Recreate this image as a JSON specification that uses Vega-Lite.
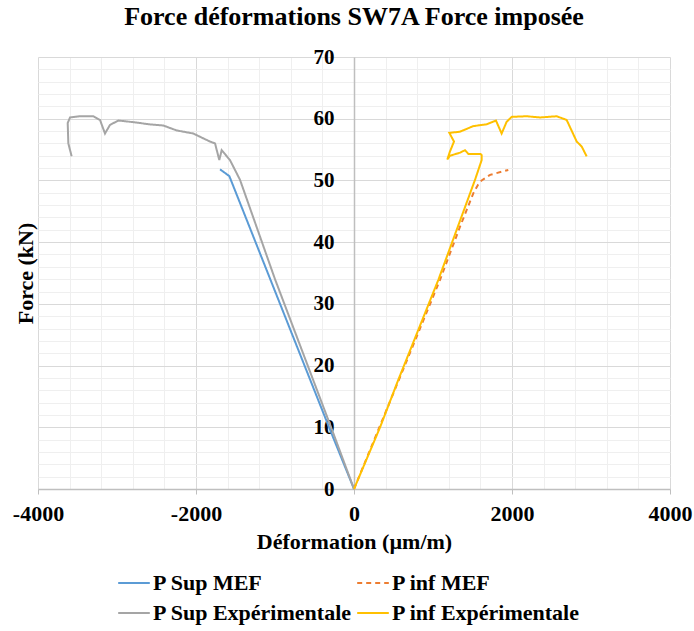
{
  "$schema": "https://vega.github.io/schema/vega-lite/v6.json",
  "width": 632,
  "height": 432,
  "autosize": "none",
  "padding": {"left": 38, "top": 57, "right": 24, "bottom": 142},
  "background": "white",
  "config": {"view": {"stroke": null}},
  "title": {
    "text": "Force déformations SW7A Force imposée",
    "font": "Liberation Serif",
    "fontSize": 26,
    "fontWeight": "bold",
    "color": "black",
    "anchor": "middle",
    "offset": 16
  },
  "data": {
    "values": [
      {"series": "P Sup MEF", "i": 0, "x": 0, "y": 0},
      {"series": "P Sup MEF", "i": 1, "x": -316, "y": 10},
      {"series": "P Sup MEF", "i": 2, "x": -1578, "y": 50.7},
      {"series": "P Sup MEF", "i": 3, "x": -1696, "y": 51.8},

      {"series": "P inf MEF", "i": 0, "x": 0, "y": 0},
      {"series": "P inf MEF", "i": 1, "x": 1089, "y": 33.9},
      {"series": "P inf MEF", "i": 2, "x": 1342, "y": 42.5},
      {"series": "P inf MEF", "i": 3, "x": 1510, "y": 47.9},
      {"series": "P inf MEF", "i": 4, "x": 1570, "y": 49.3},
      {"series": "P inf MEF", "i": 5, "x": 1616, "y": 50.0},
      {"series": "P inf MEF", "i": 6, "x": 1722, "y": 50.9},
      {"series": "P inf MEF", "i": 7, "x": 1953, "y": 51.7},

      {"series": "P Sup Expérimentale", "i": 0, "x": 0, "y": 0},
      {"series": "P Sup Expérimentale", "i": 1, "x": -290, "y": 10},
      {"series": "P Sup Expérimentale", "i": 2, "x": -1000, "y": 34.0},
      {"series": "P Sup Expérimentale", "i": 3, "x": -1443, "y": 50.1},
      {"series": "P Sup Expérimentale", "i": 4, "x": -1570, "y": 53.3},
      {"series": "P Sup Expérimentale", "i": 5, "x": -1675, "y": 54.9},
      {"series": "P Sup Expérimentale", "i": 6, "x": -1705, "y": 53.3},
      {"series": "P Sup Expérimentale", "i": 7, "x": -1759, "y": 56.0},
      {"series": "P Sup Expérimentale", "i": 8, "x": -1823, "y": 56.3},
      {"series": "P Sup Expérimentale", "i": 9, "x": -2034, "y": 57.6},
      {"series": "P Sup Expérimentale", "i": 10, "x": -2245, "y": 58.1},
      {"series": "P Sup Expérimentale", "i": 11, "x": -2414, "y": 58.9},
      {"series": "P Sup Expérimentale", "i": 12, "x": -2600, "y": 59.1},
      {"series": "P Sup Expérimentale", "i": 13, "x": -2709, "y": 59.3},
      {"series": "P Sup Expérimentale", "i": 14, "x": -2900, "y": 59.6},
      {"series": "P Sup Expérimentale", "i": 15, "x": -2983, "y": 59.7},
      {"series": "P Sup Expérimentale", "i": 16, "x": -3089, "y": 59.0},
      {"series": "P Sup Expérimentale", "i": 17, "x": -3152, "y": 57.6},
      {"series": "P Sup Expérimentale", "i": 18, "x": -3215, "y": 59.8},
      {"series": "P Sup Expérimentale", "i": 19, "x": -3300, "y": 60.4},
      {"series": "P Sup Expérimentale", "i": 20, "x": -3468, "y": 60.4},
      {"series": "P Sup Expérimentale", "i": 21, "x": -3595, "y": 60.2},
      {"series": "P Sup Expérimentale", "i": 22, "x": -3624, "y": 59.3},
      {"series": "P Sup Expérimentale", "i": 23, "x": -3616, "y": 56.0},
      {"series": "P Sup Expérimentale", "i": 24, "x": -3574, "y": 53.9},

      {"series": "P inf Expérimentale", "i": 0, "x": 0, "y": 0},
      {"series": "P inf Expérimentale", "i": 1, "x": 330, "y": 10},
      {"series": "P inf Expérimentale", "i": 2, "x": 561, "y": 17.7},
      {"series": "P inf Expérimentale", "i": 3, "x": 1068, "y": 33.9},
      {"series": "P inf Expérimentale", "i": 4, "x": 1532, "y": 50.1},
      {"series": "P inf Expérimentale", "i": 5, "x": 1616, "y": 53.3},
      {"series": "P inf Expérimentale", "i": 6, "x": 1616, "y": 54.1},
      {"series": "P inf Expérimentale", "i": 7, "x": 1600, "y": 54.3},
      {"series": "P inf Expérimentale", "i": 8, "x": 1447, "y": 54.3},
      {"series": "P inf Expérimentale", "i": 9, "x": 1405, "y": 54.9},
      {"series": "P inf Expérimentale", "i": 10, "x": 1342, "y": 54.5},
      {"series": "P inf Expérimentale", "i": 11, "x": 1215, "y": 54.0},
      {"series": "P inf Expérimentale", "i": 12, "x": 1181, "y": 53.4},
      {"series": "P inf Expérimentale", "i": 13, "x": 1215, "y": 54.7},
      {"series": "P inf Expérimentale", "i": 14, "x": 1266, "y": 56.3},
      {"series": "P inf Expérimentale", "i": 15, "x": 1207, "y": 57.7},
      {"series": "P inf Expérimentale", "i": 16, "x": 1342, "y": 57.9},
      {"series": "P inf Expérimentale", "i": 17, "x": 1510, "y": 58.8},
      {"series": "P inf Expérimentale", "i": 18, "x": 1679, "y": 59.1},
      {"series": "P inf Expérimentale", "i": 19, "x": 1797, "y": 59.7},
      {"series": "P inf Expérimentale", "i": 20, "x": 1869, "y": 57.6},
      {"series": "P inf Expérimentale", "i": 21, "x": 1932, "y": 59.5},
      {"series": "P inf Expérimentale", "i": 22, "x": 1996, "y": 60.3},
      {"series": "P inf Expérimentale", "i": 23, "x": 2186, "y": 60.4},
      {"series": "P inf Expérimentale", "i": 24, "x": 2354, "y": 60.2},
      {"series": "P inf Expérimentale", "i": 25, "x": 2565, "y": 60.4},
      {"series": "P inf Expérimentale", "i": 26, "x": 2692, "y": 59.8},
      {"series": "P inf Expérimentale", "i": 27, "x": 2819, "y": 56.3},
      {"series": "P inf Expérimentale", "i": 28, "x": 2882, "y": 55.5},
      {"series": "P inf Expérimentale", "i": 29, "x": 2945, "y": 53.9}
    ]
  },
  "resolve": {"axis": {"x": "independent", "y": "independent"}},
  "layer": [
    {
      "mark": {"type": "point", "opacity": 0},
      "encoding": {
        "x": {
          "field": "x", "type": "quantitative",
          "scale": {"domain": [-4000, 4000], "nice": false},
          "axis": {
            "orient": "top",
            "values": [-3600, -3200, -2800, -2400, -1600, -1200, -800, -400, 400, 800, 1200, 1600, 2400, 2800, 3200, 3600],
            "grid": true, "gridColor": "#efefef", "gridWidth": 1,
            "labels": false, "ticks": false, "domain": false, "title": null
          }
        },
        "y": {
          "field": "y", "type": "quantitative",
          "scale": {"domain": [0, 70], "nice": false},
          "axis": {
            "orient": "right",
            "values": [2, 4, 6, 8, 12, 14, 16, 18, 22, 24, 26, 28, 32, 34, 36, 38, 42, 44, 46, 48, 52, 54, 56, 58, 62, 64, 66, 68],
            "grid": true, "gridColor": "#efefef", "gridWidth": 1,
            "labels": false, "ticks": false, "domain": false, "title": null
          }
        }
      }
    },
    {
      "mark": {"type": "line", "strokeWidth": 2},
      "encoding": {
        "x": {
          "field": "x", "type": "quantitative",
          "scale": {"domain": [-4000, 4000], "nice": false},
          "axis": {
            "orient": "bottom",
            "values": [-4000, -2000, 0, 2000, 4000],
            "labelExpr": "'' + datum.value",
            "grid": true, "gridColor": "#d9d9d9", "gridWidth": 1,
            "domain": true, "domainColor": "#bfbfbf", "domainWidth": 1.5,
            "ticks": true, "tickColor": "#bfbfbf", "tickSize": 5,
            "labelFont": "Liberation Serif", "labelFontSize": 22, "labelFontWeight": "bold",
            "labelColor": "black", "labelPadding": 9, "labelFlush": false,
            "title": "Déformation  (µm/m)",
            "titleFont": "Liberation Serif", "titleFontSize": 22, "titleFontWeight": "bold",
            "titleColor": "black", "titlePadding": 7
          }
        },
        "y": {
          "field": "y", "type": "quantitative",
          "scale": {"domain": [0, 70], "nice": false},
          "axis": {
            "orient": "left",
            "offset": -316,
            "values": [0, 10, 20, 30, 40, 50, 60, 70],
            "grid": true, "gridColor": "#d9d9d9", "gridWidth": 1,
            "domain": true, "domainColor": "#bfbfbf", "domainWidth": 1.5,
            "ticks": false,
            "labelFont": "Liberation Serif", "labelFontSize": 21, "labelFontWeight": "bold",
            "labelColor": "black", "labelPadding": 20, "labelFlush": false,
            "title": "Force (kN)",
            "titleFont": "Liberation Serif", "titleFontSize": 22, "titleFontWeight": "bold",
            "titleColor": "black", "titleX": -329, "titleBaseline": "middle"
          }
        },
        "order": {"field": "i", "type": "quantitative"},
        "color": {
          "field": "series", "type": "nominal",
          "scale": {
            "domain": ["P Sup MEF", "P inf MEF", "P Sup Expérimentale", "P inf Expérimentale"],
            "range": ["#5B9BD5", "#ED7D31", "#A5A5A5", "#FFC000"]
          },
          "legend": {
            "orient": "none",
            "legendX": 79,
            "legendY": 509,
            "direction": "horizontal",
            "columns": 2,
            "title": null,
            "symbolType": "stroke",
            "symbolSize": 1000,
            "symbolStrokeWidth": 2,
            "labelFont": "Liberation Serif",
            "labelFontSize": 22,
            "labelFontWeight": "bold",
            "labelColor": "black",
            "labelOffset": 2,
            "columnPadding": 0,
            "rowPadding": 2,
            "padding": 0,
            "labelLimit": 400
          }
        },
        "strokeDash": {
          "field": "series", "type": "nominal",
          "scale": {
            "domain": ["P Sup MEF", "P inf MEF", "P Sup Expérimentale", "P inf Expérimentale"],
            "range": [[1, 0], [5, 4], [1, 0], [1, 0]]
          },
          "legend": null
        }
      }
    }
  ]
}
